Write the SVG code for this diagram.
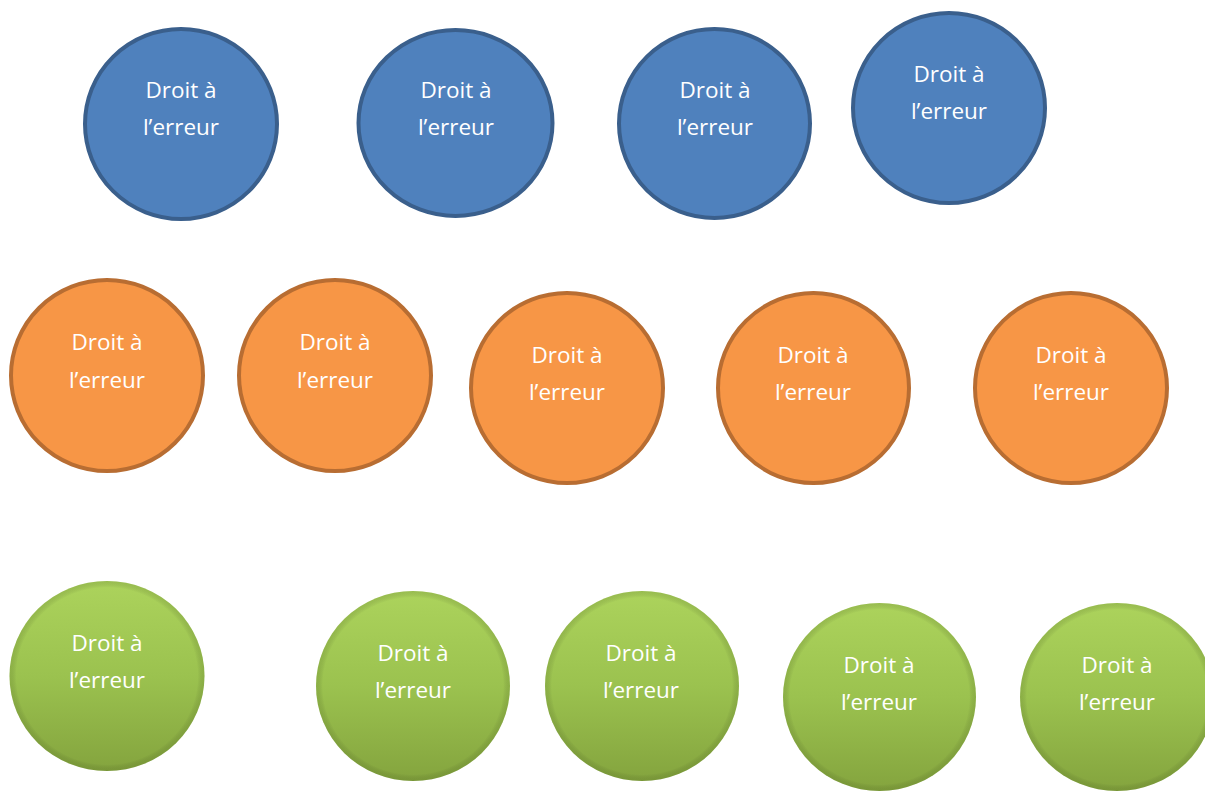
<svg xmlns="http://www.w3.org/2000/svg" width="1205" height="791" viewBox="0 0 1205 791">
<defs>
<style>
.lbl{font-family:"Open Sans","Liberation Sans",sans-serif;font-size:22.5px;fill:#ffffff;text-anchor:middle}
.blue{fill:#4f81bd;stroke:#3a5f8c;stroke-width:4}
.orange{fill:#f79646;stroke:#b86d32;stroke-width:4}
.green{fill:url(#gg)}
.gedge{fill:url(#ge)}
</style>
<linearGradient id="gg" x1="0" y1="0" x2="0" y2="1">
<stop offset="0" stop-color="#acd35c"/>
<stop offset="0.5" stop-color="#9bc24f"/>
<stop offset="1" stop-color="#84a43e"/>
</linearGradient>
<radialGradient id="ge" cx="0.5" cy="0.5" r="0.5">
<stop offset="0.93" stop-color="#000" stop-opacity="0"/>
<stop offset="1" stop-color="#4d6620" stop-opacity="0.2"/>
</radialGradient>
</defs>
<g id="b1"><ellipse class="blue" cx="181" cy="124" rx="96" ry="95"/><text class="lbl" x="181" y="98">Droit à</text><text class="lbl" x="181" y="135">l’erreur</text></g>
<g id="b2"><ellipse class="blue" cx="455.5" cy="123" rx="97" ry="93"/><text class="lbl" x="456" y="98">Droit à</text><text class="lbl" x="456" y="135">l’erreur</text></g>
<g id="b3"><ellipse class="blue" cx="714.5" cy="123.5" rx="95.5" ry="94.5"/><text class="lbl" x="715" y="98">Droit à</text><text class="lbl" x="715" y="135">l’erreur</text></g>
<g id="b4"><ellipse class="blue" cx="949" cy="108" rx="96" ry="95"/><text class="lbl" x="949" y="82">Droit à</text><text class="lbl" x="949" y="119">l’erreur</text></g>
<g id="o1"><ellipse class="orange" cx="107" cy="375.5" rx="96" ry="95.5"/><text class="lbl" x="107" y="350">Droit à</text><text class="lbl" x="107" y="388">l’erreur</text></g>
<g id="o2"><ellipse class="orange" cx="335" cy="375.5" rx="96" ry="95.5"/><text class="lbl" x="335" y="350">Droit à</text><text class="lbl" x="335" y="388">l’erreur</text></g>
<g id="o3"><ellipse class="orange" cx="567" cy="388" rx="96" ry="95"/><text class="lbl" x="567" y="363">Droit à</text><text class="lbl" x="567" y="400">l’erreur</text></g>
<g id="o4"><ellipse class="orange" cx="813.5" cy="388" rx="95.5" ry="95"/><text class="lbl" x="813" y="363">Droit à</text><text class="lbl" x="813" y="400">l’erreur</text></g>
<g id="o5"><ellipse class="orange" cx="1071" cy="388" rx="96" ry="95"/><text class="lbl" x="1071" y="363">Droit à</text><text class="lbl" x="1071" y="400">l’erreur</text></g>
<g id="g1"><ellipse class="green" cx="107" cy="676" rx="97.5" ry="95"/><ellipse class="gedge" cx="107" cy="676" rx="97.5" ry="95"/><text class="lbl" x="107" y="651">Droit à</text><text class="lbl" x="107" y="688">l’erreur</text></g>
<g id="g2"><ellipse class="green" cx="413" cy="686" rx="97" ry="95"/><ellipse class="gedge" cx="413" cy="686" rx="97" ry="95"/><text class="lbl" x="413" y="661">Droit à</text><text class="lbl" x="413" y="698">l’erreur</text></g>
<g id="g3"><ellipse class="green" cx="642" cy="686" rx="97" ry="95"/><ellipse class="gedge" cx="642" cy="686" rx="97" ry="95"/><text class="lbl" x="641" y="661">Droit à</text><text class="lbl" x="641" y="698">l’erreur</text></g>
<g id="g4"><ellipse class="green" cx="879.5" cy="697" rx="96.5" ry="94"/><ellipse class="gedge" cx="879.5" cy="697" rx="96.5" ry="94"/><text class="lbl" x="879" y="673">Droit à</text><text class="lbl" x="879" y="710">l’erreur</text></g>
<g id="g5"><ellipse class="green" cx="1117" cy="697" rx="97" ry="94"/><ellipse class="gedge" cx="1117" cy="697" rx="97" ry="94"/><text class="lbl" x="1117" y="673">Droit à</text><text class="lbl" x="1117" y="710">l’erreur</text></g>
<g id="connectors"/>
</svg>
